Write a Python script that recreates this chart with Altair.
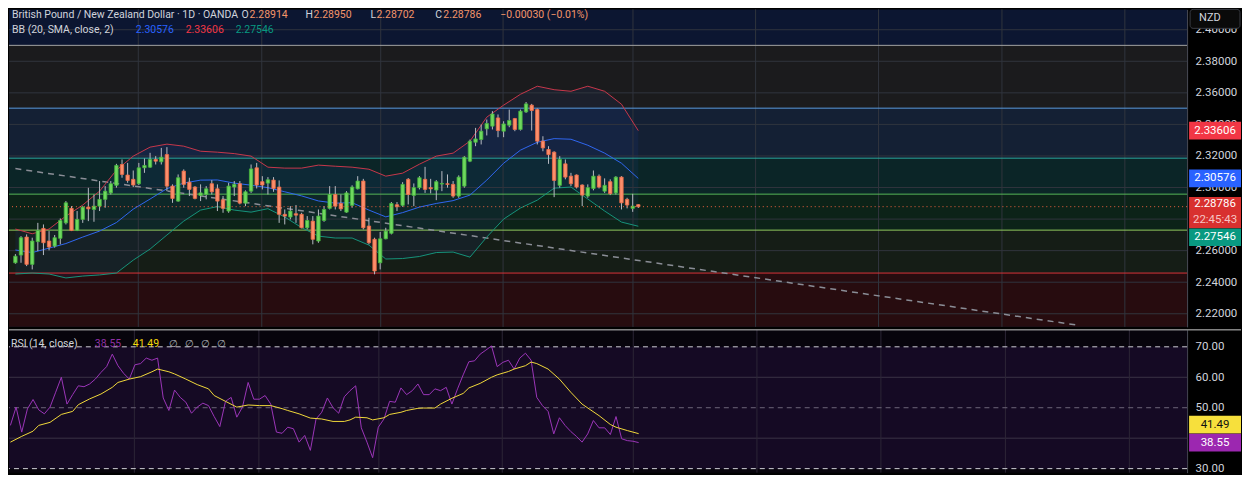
import altair as alt
import pandas as pd

# ---------------- data ----------------
opens = [2.2523, 2.2572, 2.2686, 2.2513, 2.2657, 2.2741, 2.2661, 2.2629, 2.2678, 2.2776,
         2.2868, 2.2728, 2.2798, 2.2876, 2.2861, 2.2882, 2.2925, 2.2966, 2.3014, 2.3146,
         2.3079, 2.3052, 2.3024, 2.3125, 2.3129, 2.3178, 2.3163, 2.3209, 2.3009, 2.2914,
         2.3104, 2.3034, 2.3003, 2.2950, 2.2956, 2.3024, 2.2992, 2.2922, 2.2851, 2.3003,
         2.3024, 2.2901, 2.2977, 2.3125, 2.3037, 2.3028, 2.3047, 2.3003, 2.2830, 2.2813,
         2.2834, 2.2830, 2.2745, 2.2787, 2.2661, 2.2791, 2.2868, 2.2956, 2.2899, 2.2844,
         2.2887, 2.2992, 2.3041, 2.2756, 2.2672, 2.2523, 2.2675, 2.2710, 2.2891, 2.2887,
         2.3052, 2.2950, 2.2999, 2.3052, 2.2999, 2.2984, 2.3022, 2.3024, 2.3020, 2.2946,
         2.3009, 2.3167, 2.3287, 2.3304, 2.3372, 2.3389, 2.3441, 2.3357, 2.3395, 2.3437,
         2.3368, 2.3479, 2.3522, 2.3494, 2.3294, 2.3241, 2.3224, 2.3014, 2.3150, 2.3072,
         2.3079, 2.3016, 2.2946, 2.2994, 2.3072, 2.2977, 2.3037, 2.2966, 2.3066, 2.2925,
         2.2868, 2.28914]
highs = [2.2578, 2.2692, 2.2703, 2.2682, 2.2776, 2.2766, 2.2724, 2.2699, 2.2804, 2.2914,
         2.2882, 2.2851, 2.2882, 2.2998, 2.2956, 2.3041, 2.3009, 2.3041, 2.3150, 2.3178,
         2.3156, 2.3108, 2.3156, 2.3184, 2.3220, 2.3199, 2.3251, 2.3256, 2.3020, 2.3083,
         2.3115, 2.3062, 2.3009, 2.3020, 2.3009, 2.3047, 2.3020, 2.2946, 2.3030, 2.3041,
         2.3041, 2.2982, 2.3146, 2.3156, 2.3072, 2.3066, 2.3066, 2.3045, 2.2861, 2.2882,
         2.2889, 2.2840, 2.2819, 2.2819, 2.2861, 2.2882, 2.3009, 2.3009, 2.2956, 2.2977,
         2.3014, 2.3072, 2.3055, 2.2808, 2.2682, 2.2718, 2.2745, 2.2908, 2.2908, 2.3034,
         2.3060, 2.3026, 2.3072, 2.3131, 2.3055, 2.3047, 2.3104, 2.3083, 2.3041, 2.3077,
         2.3199, 2.3304, 2.3378, 2.3399, 2.3431, 2.3484, 2.3463, 2.3420, 2.3494, 2.3441,
         2.3494, 2.3542, 2.3530, 2.3501, 2.3325, 2.3262, 2.3230, 2.3199, 2.3178, 2.3093,
         2.3083, 2.3020, 2.3020, 2.3108, 2.3083, 2.3058, 2.3052, 2.3072, 2.3072, 2.2935,
         2.2960, 2.28950]
lows = [2.2517, 2.2523, 2.2502, 2.2481, 2.2597, 2.2572, 2.2602, 2.2619, 2.2640, 2.2766,
        2.2724, 2.2724, 2.2776, 2.2787, 2.2783, 2.2851, 2.2872, 2.2956, 2.2999, 2.3062,
        2.3030, 2.3003, 2.3016, 2.3093, 2.3125, 2.3146, 2.3146, 2.2977, 2.2903, 2.2910,
        2.2999, 2.2946, 2.2925, 2.2914, 2.2925, 2.2956, 2.2851, 2.2840, 2.2840, 2.2946,
        2.2893, 2.2882, 2.2966, 2.2994, 2.2988, 2.2956, 2.2973, 2.2776, 2.2766, 2.2798,
        2.2776, 2.2741, 2.2735, 2.2640, 2.2650, 2.2783, 2.2861, 2.2861, 2.2851, 2.2840,
        2.2872, 2.2988, 2.2735, 2.2640, 2.2450, 2.2481, 2.2672, 2.2703, 2.2851, 2.2878,
        2.2893, 2.2882, 2.2988, 2.2966, 2.2963, 2.2920, 2.2977, 2.2999, 2.2935, 2.2935,
        2.2999, 2.3161, 2.3262, 2.3273, 2.3330, 2.3368, 2.3319, 2.3319, 2.3382, 2.3357,
        2.3361, 2.3473, 2.3361, 2.3273, 2.3230, 2.3150, 2.2939, 2.2999, 2.3052, 2.3009,
        2.2994, 2.2882, 2.2935, 2.2982, 2.2994, 2.2966, 2.2952, 2.2956, 2.2861, 2.2868,
        2.2846, 2.28702]
closes = [2.2565, 2.2682, 2.2513, 2.2661, 2.2728, 2.2650, 2.2623, 2.2682, 2.2791, 2.2903,
          2.2728, 2.2798, 2.2876, 2.2865, 2.2882, 2.2925, 2.2977, 2.3024, 2.3140, 2.3083,
          2.3045, 2.3016, 2.3125, 2.3140, 2.3178, 2.3167, 2.3192, 2.3009, 2.2931, 2.3062,
          2.3020, 2.2988, 2.2931, 2.2966, 2.2992, 2.2973, 2.2914, 2.2868, 2.3009, 2.3020,
          2.2901, 2.2973, 2.3118, 2.3016, 2.3016, 2.3049, 2.2994, 2.2830, 2.2819, 2.2851,
          2.2825, 2.2745, 2.2791, 2.2672, 2.2819, 2.2861, 2.2956, 2.2882, 2.2865, 2.2966,
          2.3003, 2.3041, 2.2745, 2.2650, 2.2471, 2.2675, 2.2724, 2.2899, 2.2878, 2.3020,
          2.2956, 2.2999, 2.3062, 2.2988, 2.2992, 2.3037, 2.3026, 2.3020, 2.2946, 2.3066,
          2.3192, 2.3294, 2.3308, 2.3357, 2.3406, 2.3466, 2.3361, 2.3403, 2.3425, 2.3368,
          2.3484, 2.3530, 2.3488, 2.3294, 2.3251, 2.3209, 2.3045, 2.3178, 2.3066, 2.3024,
          2.3003, 2.2952, 2.2999, 2.3072, 2.3003, 2.3014, 2.2961, 2.3066, 2.2903, 2.2889,
          2.2882, 2.28786]

bb_index = list(range(0, 112, 3))
bb_upper = [2.2737, 2.2707, 2.2737, 2.2819, 2.2889, 2.2977, 2.3110, 2.3199, 2.3256, 2.3275,
            2.3262, 2.3230, 2.3224, 2.3215, 2.3199, 2.3129, 2.3123, 2.3123, 2.3142, 2.3135,
            2.3129, 2.3116, 2.3072, 2.3091, 2.3148, 2.3199, 2.3218, 2.3294, 2.3446, 2.3522,
            2.3591, 2.3642, 2.3620, 2.3610, 2.3642, 2.3610, 2.3528, 2.33606]
bb_basis = [2.2604, 2.2588, 2.2616, 2.2645, 2.2686, 2.2724, 2.2778, 2.2863, 2.2927, 2.2993,
            2.3028, 2.3047, 2.3048, 2.3028, 2.3015, 2.2999, 2.2973, 2.2947, 2.2915, 2.2901,
            2.2904, 2.2857, 2.2814, 2.2841, 2.2876, 2.2899, 2.2917, 2.2952, 2.3047, 2.3154,
            2.3237, 2.3287, 2.3310, 2.3306, 2.3268, 2.3218, 2.3154, 2.30576]
bb_lower = [2.2452, 2.2458, 2.2452, 2.2427, 2.2439, 2.2446, 2.2458, 2.2540, 2.2610, 2.2699,
            2.2787, 2.2857, 2.2879, 2.2857, 2.2844, 2.2866, 2.2813, 2.2746, 2.2692, 2.2680,
            2.2680, 2.2635, 2.2547, 2.2550, 2.2563, 2.2588, 2.2591, 2.2559, 2.2686, 2.2800,
            2.2870, 2.2920, 2.2996, 2.3003, 2.2927, 2.2851, 2.2781, 2.27546]

rsi_values = [44.2, 50.2, 42.0, 49.6, 52.7, 49.3, 48.0, 50.2, 55.1, 60.0,
              51.2, 54.3, 57.2, 56.9, 57.8, 59.4, 61.6, 63.5, 67.6, 63.8,
              61.3, 59.4, 64.1, 64.5, 66.3, 65.6, 66.3, 53.2, 49.1, 55.8,
              53.4, 51.8, 48.2, 50.2, 51.5, 50.7, 47.1, 43.8, 52.1, 53.4,
              46.9, 50.2, 58.3, 52.8, 52.8, 54.0, 51.2, 42.0, 41.6, 43.6,
              43.1, 38.7, 40.9, 36.0, 46.3, 48.5, 53.2, 50.0, 48.2, 53.6,
              55.6, 57.2, 43.4, 38.7, 33.6, 43.6, 46.3, 52.1, 51.8, 56.5,
              54.3, 55.6, 57.8, 54.3, 54.3, 56.2, 55.6, 56.7, 51.2, 56.2,
              60.8, 65.1, 65.4, 67.6, 68.9, 70.3, 63.5, 64.9, 65.6, 62.7,
              66.3, 67.9, 65.6, 53.4, 50.7, 48.8, 41.4, 46.7, 44.2, 42.2,
              40.6, 38.7, 41.4, 45.8, 43.4, 43.4, 41.2, 47.1, 39.8, 39.2,
              39.0, 38.55]
rsi_ma_index = [0, 2, 4, 5, 7, 9, 11, 12, 14, 16, 18, 19, 21, 23, 25, 26, 28, 29, 31, 33,
                35, 36, 38, 40, 42, 44, 46, 48, 49, 51, 53, 55, 57, 59, 60, 61, 63, 64, 66, 67,
                69, 70, 72, 73, 75, 76, 78, 80, 81, 83, 85, 86, 88, 89, 91, 92, 93, 95, 97, 99,
                101, 104, 106, 107, 109, 111]
rsi_ma_values = [38.7, 40.6, 42.3, 44.2, 45.2, 47.8, 48.8, 51.0, 52.9, 54.5, 56.7, 58.3, 59.4,
                 60.2, 61.8, 62.7, 61.8, 61.1, 59.4, 57.6, 56.2, 54.0, 52.1, 50.2, 50.9, 50.7,
                 50.7, 49.7, 49.1, 48.0, 46.6, 46.3, 45.5, 45.5, 46.0, 46.9, 46.7, 46.0, 46.7,
                 47.8, 48.5, 49.1, 49.8, 49.9, 49.9, 51.2, 53.1, 54.7, 56.5, 58.0, 60.0, 60.8,
                 61.9, 62.7, 63.8, 65.0, 64.5, 62.7, 59.4, 55.1, 51.2, 47.4, 44.5, 43.6, 42.5,
                 41.49]

price_ticks = [2.22, 2.24, 2.26, 2.28, 2.30, 2.32, 2.34, 2.36, 2.38, 2.40]
price_labels = [2.22, 2.24, 2.26, 2.30, 2.32, 2.34, 2.36, 2.38, 2.40]
rsi_labels_vals = [30, 50, 60, 70]
rsi_solid = [40, 60]
rsi_bounds = [30, 70]
rsi_middle = [50]
month_breaks = [21.9, 43.9, 65.1, 86.9, 110.05, 131.9, 153.8, 175.8, 197.7]

level_prices = [2.3901, 2.3503, 2.3186, 2.2958, 2.2730, 2.2458]
zone_bottoms = [2.3503, 2.3186, 2.2958, 2.2730, 2.2458, 2.1900]
zone_fills = ["#1b1b1d", "#142034", "#0b2527", "#0c2318", "#151d16", "#270c0f"]
level_colors = ["#a3a3a3", "#5a9bdc", "#2aa79b", "#56b856", "#92c95c", "#d8343a"]

trend_index = [0, 189.6]
trend_price = [2.3120, 2.2126]

change_text = "−0.00030 (−0.01%)"
timer_text = "22:45:43"

# ---------------- layout ----------------
W = 1180
H1 = 318
H2 = 143
GREEN_FILL, GREEN_LINE = "#6fd85f", "#44b33c"
RED_FILL, RED_LINE = "#fb8f6c", "#ee6a45"
ORANGE = "#f4956a"
FONT = "Roboto"

xs = alt.Scale(domain=[-0.25, 207.9], nice=False, zero=False)
ys = alt.Scale(domain=[2.2117, 2.4129], nice=False, zero=False)
rs = alt.Scale(domain=[28.69, 75.57], nice=False, zero=False)

price_axis = alt.Axis(orient="right", values=price_labels, format=".5f", grid=False,
                      ticks=False, domain=True, domainColor="#4a4d57", labelColor="#d1d4dc",
                      labelFont=FONT, labelFontSize=11.5, labelPadding=8, title=None,
                      labelOverlap=False)
rsi_axis = alt.Axis(orient="right", values=rsi_labels_vals, format=".2f", grid=False,
                    ticks=False, domain=True, domainColor="#4a4d57", labelColor="#d1d4dc",
                    labelFont=FONT, labelFontSize=11.5, labelPadding=8, title=None,
                    labelOverlap=False)


def X(f):
    return alt.X(f"{f}:Q", scale=xs, axis=None)


def PY(f):
    return alt.Y(f"{f}:Q", scale=ys, axis=price_axis, title=None)


def RY(f):
    return alt.Y(f"{f}:Q", scale=rs, axis=rsi_axis, title=None)


def label(txt, x, y, color, size=11, align="left", font=FONT):
    return alt.Chart(pd.DataFrame({"t": [txt]})).mark_text(
        align=align, baseline="middle", font=font, fontSize=size, color=color).encode(
        x=alt.value(x), y=alt.value(y), text="t:N")


candles = pd.DataFrame({"i": list(range(len(opens))), "o": opens, "h": highs,
                        "l": lows, "c": closes})
candles["dir"] = ["up" if c >= o else "down" for o, c in zip(opens, closes)]
bb = pd.DataFrame({"i": bb_index, "up": bb_upper, "mid": bb_basis, "lo": bb_lower})
zones_df = pd.DataFrame({"top": level_prices, "bottom": zone_bottoms, "fill": zone_fills})
levels_df = pd.DataFrame({"p": level_prices, "c": level_colors})
trend_df = pd.DataFrame({"i": trend_index, "p": trend_price})

zones = alt.Chart(zones_df).mark_rect(clip=True).encode(
    x=alt.value(0), x2=alt.value(W), y=PY("top"), y2="bottom:Q",
    color=alt.Color("fill:N", scale=None))
bb_fill = alt.Chart(bb).mark_area(color="#2962ff", opacity=0.07).encode(
    x=X("i"), y=PY("up"), y2="lo:Q")
grid_h = alt.Chart(pd.DataFrame({"p": price_ticks})).mark_rule(
    color="#30343d", strokeWidth=1).encode(y=PY("p"))
grid_v = alt.Chart(pd.DataFrame({"m": month_breaks})).mark_rule(
    color="#30343d", strokeWidth=1).encode(x=X("m"))
levels = alt.Chart(levels_df).mark_rule(strokeWidth=1).encode(
    y=PY("p"), color=alt.Color("c:N", scale=None))
trend = alt.Chart(trend_df).mark_line(clip=True, color="#8a8d96", strokeDash=[6, 5],
                                      strokeWidth=1.5).encode(x=X("i"), y=PY("p"))
bb_up = alt.Chart(bb).mark_line(color="#c7374a", strokeWidth=1).encode(x=X("i"), y=PY("up"))
bb_mid = alt.Chart(bb).mark_line(color="#2f66f0", strokeWidth=1).encode(x=X("i"), y=PY("mid"))
bb_lo = alt.Chart(bb).mark_line(color="#16937a", strokeWidth=1).encode(x=X("i"), y=PY("lo"))
wicks = alt.Chart(candles).mark_rule(color="#b8bcc4", strokeWidth=1).encode(
    x=X("i"), y=PY("l"), y2="h:Q")
bodies = alt.Chart(candles).mark_bar(size=3.4, strokeWidth=0.8).encode(
    x=X("i"), y=PY("o"), y2="c:Q",
    color=alt.Color("dir:N", scale=alt.Scale(domain=["up", "down"],
                                             range=[GREEN_FILL, RED_FILL]), legend=None),
    stroke=alt.Stroke("dir:N", scale=alt.Scale(domain=["up", "down"],
                                               range=[GREEN_LINE, RED_LINE]), legend=None))
last_df = pd.DataFrame({"p": [closes[-1]], "txt": [f"{closes[-1]:.5f}"], "tm": [timer_text]})
price_line = alt.Chart(last_df).mark_rule(color="#f0633f", strokeDash=[1, 3],
                                          strokeWidth=1).encode(y=PY("p"))

TAG = "M-1,-0.34L1,-0.34L1,0.34L-1,0.34Z"
TAG2 = "M-1,-0.6L1,-0.6L1,0.6L-1,0.6Z"
tags_df = pd.DataFrame({"v": [bb_upper[-1], bb_basis[-1], bb_lower[-1]],
                        "fill": ["#f23645", "#2962ff", "#089981"]})
tags_df["txt"] = [f"{v:.5f}" for v in tags_df["v"]]


def tag_layers(df, off):
    box = alt.Chart(df).mark_point(shape=TAG, size=2704, filled=True, opacity=1,
                                   strokeWidth=0, yOffset=off).encode(
        x=alt.value(W + 28), y=PY("v"), color=alt.Color("fill:N", scale=None))
    txt = alt.Chart(df).mark_text(font=FONT, fontSize=11.5, color="#ffffff",
                                  baseline="middle", yOffset=off).encode(
        x=alt.value(W + 28), y=PY("v"), text="txt:N")
    return [box, txt]


tags_main = tag_layers(tags_df.iloc[:2], 0)
tags_low = tag_layers(tags_df.iloc[2:], 11)

cp_box = alt.Chart(last_df).mark_point(shape=TAG2, size=2704, filled=True, opacity=1,
                                       strokeWidth=0, color="#d8302f", yOffset=6).encode(
    x=alt.value(W + 28), y=PY("p"))
cp_txt = alt.Chart(last_df).mark_text(font=FONT, fontSize=11.5, color="#ffffff",
                                      baseline="middle", yOffset=-2.5).encode(
    x=alt.value(W + 28), y=PY("p"), text="txt:N")
cp_tm = alt.Chart(last_df).mark_text(font=FONT, fontSize=11.5, color="#f6c4c4",
                                     baseline="middle", yOffset=13).encode(
    x=alt.value(W + 28), y=PY("p"), text="tm:N")
nzd_box = alt.Chart(pd.DataFrame({"t": ["NZD"]})).mark_rect(
    cornerRadius=3, fill="#0a0a0a", stroke="#3a3d45", strokeWidth=1).encode(
    x=alt.value(W + 3), x2=alt.value(W + 53), y=alt.value(0), y2=alt.value(19))
nzd_txt = label("NZD", W + 12, 9, "#d1d4dc", size=11)

LT = "#d1d4dc"
top_labels = [
    label("British Pound / New Zealand Dollar · 1D · OANDA", 3, 6, LT, 10.5),
    label("O", 233, 6, LT, 10.5), label(f"{opens[-1]:.5f}", 241, 6, ORANGE, 10.5),
    label("H", 297, 6, LT, 10.5), label(f"{highs[-1]:.5f}", 305, 6, ORANGE, 10.5),
    label("L", 362, 6, LT, 10.5), label(f"{lows[-1]:.5f}", 368, 6, ORANGE, 10.5),
    label("C", 427, 6, LT, 10.5), label(f"{closes[-1]:.5f}", 435, 6, ORANGE, 10.5),
    label(change_text, 492, 6, ORANGE, 10.5),
    label("BB (20, SMA, close, 2)", 3, 21, LT, 10.5),
    label(f"{bb_basis[-1]:.5f}", 127, 21, "#2962ff", 10.5),
    label(f"{bb_upper[-1]:.5f}", 177, 21, "#f23645", 10.5),
    label(f"{bb_lower[-1]:.5f}", 227, 21, "#089981", 10.5),
]

top = alt.layer(zones, bb_fill, grid_h, grid_v, levels, trend, bb_up, bb_mid, bb_lo,
                wicks, bodies, price_line, cp_box, cp_txt, cp_tm, *tags_main, *tags_low,
                nzd_box, nzd_txt, *top_labels).properties(
    width=W, height=H1, view=alt.ViewBackground(fill="#0c1631", stroke=None))

# ---------------- RSI panel ----------------
rsi_df = pd.DataFrame({"i": list(range(len(rsi_values))), "r": rsi_values})
ma_df = pd.DataFrame({"i": rsi_ma_index, "m": rsi_ma_values})

band = alt.Chart(pd.DataFrame({"a": [rsi_bounds[0]], "b": [rsi_bounds[1]]})).mark_rect(
    color="#150a24").encode(x=alt.value(0), x2=alt.value(W), y=RY("a"), y2="b:Q")
r_grid = alt.Chart(pd.DataFrame({"v": rsi_solid})).mark_rule(color="#3a3346").encode(
    y=RY("v"))
r_vgrid = alt.Chart(pd.DataFrame({"m": month_breaks})).mark_rule(color="#2c2636").encode(
    x=X("m"))
r_bounds = alt.Chart(pd.DataFrame({"v": rsi_bounds})).mark_rule(
    color="#cfcfd6", strokeDash=[5, 4]).encode(y=RY("v"))
r_mid = alt.Chart(pd.DataFrame({"v": rsi_middle})).mark_rule(
    color="#6c6478", strokeDash=[5, 4]).encode(y=RY("v"))
r_line = alt.Chart(rsi_df).mark_line(color="#9b35b8", strokeWidth=1).encode(
    x=X("i"), y=RY("r"))
r_ma = alt.Chart(ma_df).mark_line(color="#f0d83a", strokeWidth=1).encode(
    x=X("i"), y=RY("m"))
rtag_df = pd.DataFrame({"v": [rsi_ma_values[-1]], "txt": [f"{rsi_ma_values[-1]:.2f}"]})
rtag2_df = pd.DataFrame({"v": [rsi_values[-1]], "txt": [f"{rsi_values[-1]:.2f}"]})
rtag_box = alt.Chart(rtag_df).mark_point(shape=TAG, size=2704, filled=True, opacity=1,
                                         strokeWidth=0, color="#f7e03c", yOffset=-9).encode(
    x=alt.value(W + 28), y=RY("v"))
rtag_txt = alt.Chart(rtag_df).mark_text(font=FONT, fontSize=11.5, color="#111111",
                                        baseline="middle", yOffset=-9).encode(
    x=alt.value(W + 28), y=RY("v"), text="txt:N")
rtag2_box = alt.Chart(rtag2_df).mark_point(shape=TAG, size=2704, filled=True, opacity=1,
                                           strokeWidth=0, color="#9c27b0").encode(
    x=alt.value(W + 28), y=RY("v"))
rtag2_txt = alt.Chart(rtag2_df).mark_text(font=FONT, fontSize=11.5, color="#ffffff",
                                          baseline="middle").encode(
    x=alt.value(W + 28), y=RY("v"), text="txt:N")
sep = alt.Chart(pd.DataFrame({"a": [0]})).mark_rule(color="#c8c8c8", strokeWidth=1).encode(
    x=alt.value(0), x2=alt.value(W + 54), y=alt.value(0))
rsi_labels = [
    label("RSI (14, close)", 2, 14, LT, 10.5),
    label(f"{rsi_values[-1]:.2f}", 86, 14, "#8e2fa3", 10.5),
    label(f"{rsi_ma_values[-1]:.2f}", 124, 14, "#f5d90a", 10.5),
    label("∅", 160, 14, "#b2b5be", 10.5), label("∅", 176, 14, "#b2b5be", 10.5),
    label("∅", 192, 14, "#b2b5be", 10.5), label("∅", 208, 14, "#b2b5be", 10.5),
]

rsi = alt.layer(band, r_grid, r_vgrid, r_bounds, r_mid, r_line, r_ma, rtag_box, rtag_txt,
                rtag2_box, rtag2_txt, sep, *rsi_labels).properties(
    width=W, height=H2, view=alt.ViewBackground(fill="#07040c", stroke=None))

chart = alt.vconcat(top, rsi, spacing=1).properties(
    padding=0, background="#000000").configure_view(stroke=None)

chart.save("out.html", embed_options={"renderer": "svg", "actions": False})
